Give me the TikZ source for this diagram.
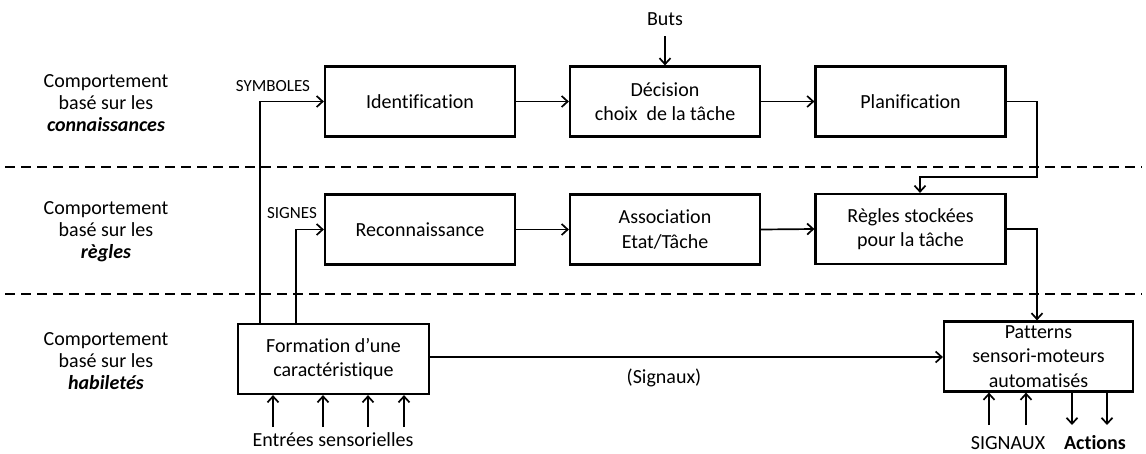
\documentclass[tikz,border=0pt]{standalone}
\usepackage{fontspec}
\setmainfont{Carlito}[Ligatures=NoCommon]
\usetikzlibrary{arrows.meta}
\begin{document}
\begin{tikzpicture}[x=1pt,y=-1pt,
  box/.style={draw,line width=2.2pt,minimum width=190pt,minimum height=70pt,align=center,font=\fontsize{20}{24.5}\selectfont,inner sep=0pt},
  lbl/.style={align=center,font=\fontsize{20}{22}\selectfont},
  small/.style={font=\fontsize{17}{19}\selectfont},
  arr/.style={line width=1.7pt,-{Straight Barb[length=6pt,width=11pt]}},
  sep/.style={line width=2pt,dash pattern=on 10pt off 6pt}]
\useasboundingbox (0,0) rectangle (1146,453);
% separators
\draw[sep] (5,167) -- (1142,167);
\draw[sep] (5,294) -- (1142,294);
% left labels
\node[lbl] (l1) at (106,103) {Comportement\\basé sur les\\\textbf{\textit{connaissances}}};
\node[lbl] (l2) at (106,232) {Comportement\\basé sur les\\\textbf{\textit{règles}}};
\node[lbl] (l3) at (106,361) {Comportement\\basé sur les\\\textbf{\textit{habiletés}}};
% boxes
\node[box] (ident) at (420,101.5) {Identification};
\node[box] (dec) at (665,101.5) {Décision\\choix\ \ de la tâche};
\node[box] (plan) at (910.5,101.5) {Planification};
\node[box] (reco) at (420,229.5) {Reconnaissance};
\node[box] (assoc) at (665,229.5) {Association\\Etat/Tâche};
\node[box] (regles) at (910.5,229) {Règles stockées\\pour la tâche};
\node[box,minimum width=191pt] (form) at (333.5,359) {Formation d’une\\caractéristique};
\node[box,minimum width=189pt] (pat) at (1038.5,356.5) {Patterns\\sensori-moteurs\\automatisés};
% texts
\node[lbl] (buts) at (665,19) {Buts};
\coordinate (butsend) at (665,36);
\node[small] (symb) at (273,86) {SYMBOLES};
\node[small] (sig) at (292,213) {SIGNES};
\node[lbl] (signaux) at (664,378) {(Signaux)};
\node[lbl] (entrees) at (333,440) {Entrées sensorielles};
\node[lbl] (signaux2) at (1008,443) {SIGNAUX};
\node[lbl] (actions) at (1095,443) {\textbf{Actions}};
% connectors
\draw[arr] (butsend) -- (dec.north);
\draw[arr] (ident.east) -- (dec.west);
\draw[arr] (dec.east) -- (plan.west);
\draw[arr] (reco.east) -- (assoc.west);
\draw[arr] (assoc.east) -- (regles.west);
\draw[arr] (form.north -| 260,0) -- (260,101.5) -- (ident.west);
\draw[arr] (form.north -| 296,0) -- (296,229.5) -- (reco.west);
\draw[arr] (plan.east) -- (1037,101.5) -- (1037,177) -- (920,177) -- (regles.north -| 920,0);
\draw[arr] (regles.east) -- (1037,229) -- (pat.north -| 1037,0);
\draw[arr] (form.east |- 0,357) -- (pat.west |- 0,357);
\foreach \x [count=\i] in {273,323,368,404}{
  \coordinate (e\i) at (\x,427);
  \draw[arr] (e\i) -- (form.south -| e\i);
}
\foreach \x [count=\i] in {989,1026}{
  \coordinate (s\i) at (\x,425);
  \draw[arr] (s\i) -- (pat.south -| s\i);
}
\foreach \x [count=\i] in {1072,1107}{
  \coordinate (a\i) at (\x,425);
  \draw[arr] (pat.south -| a\i) -- (a\i);
}
\end{tikzpicture}
\end{document}
